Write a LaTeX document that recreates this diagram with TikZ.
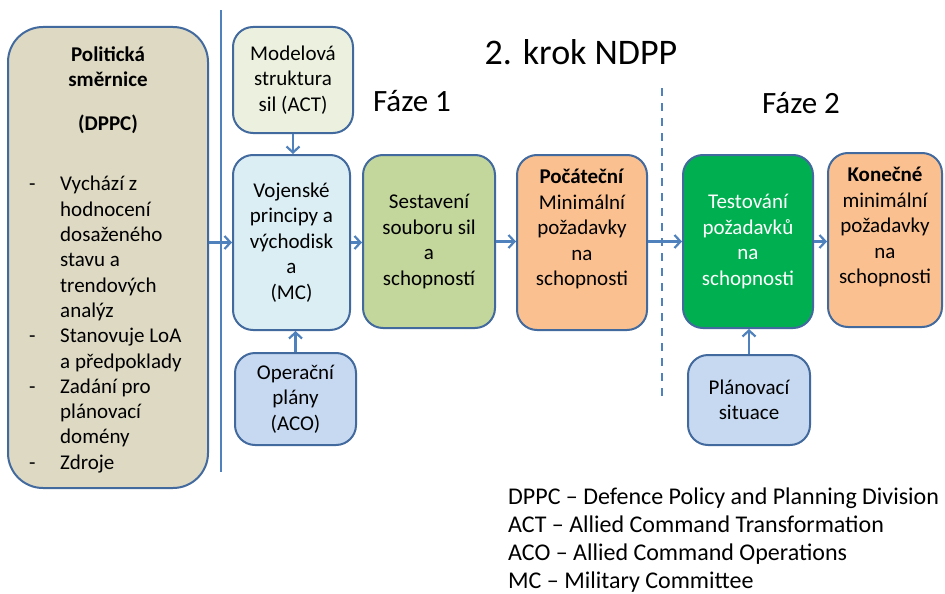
\documentclass[tikz,border=0pt]{standalone}
\usepackage{fontspec}
\setmainfont{Carlito}
\usetikzlibrary{arrows.meta}

\definecolor{edge}{RGB}{66,106,158}
\definecolor{flow}{RGB}{79,129,189}
\definecolor{tan}{RGB}{221,217,195}
\definecolor{palegreen}{RGB}{235,241,222}
\definecolor{paleblue}{RGB}{219,238,244}
\definecolor{steelblue}{RGB}{198,217,241}
\definecolor{olive}{RGB}{195,214,155}
\definecolor{peach}{RGB}{250,192,144}
\definecolor{brightgreen}{RGB}{0,176,80}

\begin{document}
\begin{tikzpicture}[x=1pt,y=-1pt,
  box/.style={draw=edge, line width=2pt, rounded corners=20pt, align=center,
              inner sep=0pt, font=\fontsize{21}{25.5}\selectfont},
  boxtext/.style={align=center, inner sep=0pt, font=\fontsize{21}{25.5}\selectfont},
  flowarrow/.style={draw=flow, line width=2.2pt, -{Straight Barb[length=6pt,width=13pt]}},
  divider/.style={draw=flow, line width=2pt},
  phase/.style={inner sep=0pt, anchor=base, font=\fontsize{31}{37}\selectfont},
  legend/.style={inner sep=0pt, anchor=base west, font=\fontsize{24}{27}\selectfont}
]
\useasboundingbox (0,0) rectangle (945,594);

% left column: policy guidance
\node[box, rounded corners=35pt, fill=tan, minimum width=200pt, minimum height=461pt]
  (pol) at (108,257.5) {};
\node[boxtext, font=\fontsize{21}{25.5}\selectfont\bfseries] (poltitle) at (108,90)
  {Politická\\směrnice\\[18pt](DPPC)};
\node[inner sep=0pt, anchor=west, font=\fontsize{21}{25.3}\selectfont] (pollist) at (29,325) {%
  \begin{tabular}{@{}p{31pt}@{}l@{}}
  - & Vychází z\\
    & hodnocení\\
    & dosaženého\\
    & stavu a\\
    & trendových\\
    & analýz\\
  - & Stanovuje LoA\\
    & a předpoklady\\
  - & Zadání pro\\
    & plánovací\\
    & domény\\
  - & Zdroje
  \end{tabular}};

% separators
\coordinate (vtop) at (221,10);
\coordinate (vbot) at (221,472);
\draw[divider] (vtop) -- (vbot);
\coordinate (dtop) at (662,88);
\coordinate (dbot) at (662,398);
\draw[divider, dash pattern=on 8pt off 7pt] (dtop) -- (dbot);

% headings
\node[inner sep=0pt, anchor=base, font=\fontsize{36}{43}\selectfont] (title) at (581,65) {2. krok NDPP};
\node[phase] (phase1) at (412,111) {Fáze 1};
\node[phase] (phase2) at (801,113) {Fáze 2};

% phase 1
\node[box, fill=palegreen, minimum width=120pt, minimum height=106pt] (mod) at (293,80)
  {Modelová\\struktura\\sil (ACT)};
\node[box, fill=paleblue, minimum width=117pt, minimum height=175pt] (voj) at (291.5,242.5)
  {Vojenské\\principy a\\východisk\\a\\(MC)};
\node[box, fill=steelblue, minimum width=121pt, minimum height=92pt] (ope) at (295.5,399)
  {Operační\\plány\\(ACO)};
\node[box, fill=olive, minimum width=132pt, minimum height=173pt] (ses) at (429,241.5)
  {Sestavení\\souboru sil\\a\\schopností};
\node[box, fill=peach, minimum width=130pt, minimum height=175pt] (poc) at (582,242.5) {};
\node[boxtext] (poctext) at (582,229)
  {\textbf{Počáteční}\\Minimální\\požadavky\\na\\schopnosti};

% phase 2
\node[box, fill=brightgreen, text=white, minimum width=130pt, minimum height=173pt] (tes) at (748,241.5)
  {Testování\\požadavků\\na\\schopnosti};
\node[box, fill=peach, minimum width=114pt, minimum height=174pt] (kon) at (885,240) {};
\node[boxtext] (kontext) at (885,227)
  {\textbf{Konečné}\\minimální\\požadavky\\na\\schopnosti};
\node[box, fill=steelblue, minimum width=122pt, minimum height=90pt] (pla) at (749,400)
  {Plánovací\\situace};

% connectors
\draw[flowarrow] (pol.east |- voj.west) -- (voj.west);
\draw[flowarrow] (mod.south) -- (mod.south |- voj.north);
\draw[flowarrow] (ope.north) -- (ope.north |- voj.south);
\draw[flowarrow] (voj.east) -- (voj.east -| ses.west);
\draw[flowarrow] (ses.east) -- (ses.east -| poc.west);
\draw[flowarrow] (poc.east |- tes.west) -- (tes.west);
\draw[flowarrow] (tes.east) -- (tes.east -| kon.west);
\draw[flowarrow] (pla.north) -- (pla.north |- tes.south);

% abbreviations
\node[legend] (leg1) at (508,504.5) {DPPC – Defence Policy and Planning Division};
\node[legend] (leg2) at (508,532.5) {ACT – Allied Command Transformation};
\node[legend] (leg3) at (508,560.5) {ACO – Allied Command Operations};
\node[legend] (leg4) at (508,588) {MC – Military Committee};
\end{tikzpicture}
\end{document}
